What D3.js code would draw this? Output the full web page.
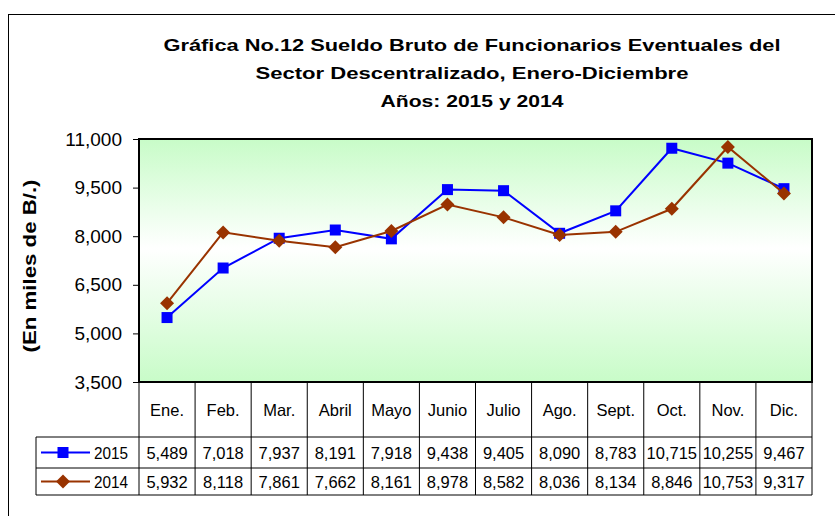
<!DOCTYPE html>
<html>
<head>
<meta charset="utf-8">
<script src="https://cdn.jsdelivr.net/npm/d3@7.9.0/dist/d3.min.js"></script>
<style>
  body { margin: 0; background: #fff; }
  svg { font-family: "Liberation Sans", Arial, sans-serif; }
</style>
</head>
<body>
<svg id="chart" width="835" height="516"></svg>
<script>
const months = ['Ene.', 'Feb.', 'Mar.', 'Abril', 'Mayo', 'Junio', 'Julio', 'Ago.', 'Sept.', 'Oct.', 'Nov.', 'Dic.'];
const values2015 = [5489, 7018, 7937, 8191, 7918, 9438, 9405, 8090, 8783, 10715, 10255, 9467];
const values2014 = [5932, 8118, 7861, 7662, 8161, 8978, 8582, 8036, 8134, 8846, 10753, 9317];
const yTicks = [3500, 5000, 6500, 8000, 9500, 11000];
const titleLines = [
  'Gráfica No.12 Sueldo Bruto de Funcionarios Eventuales del',
  'Sector Descentralizado, Enero-Diciembre',
  'Años: 2015 y 2014'
];

const series = [
  { name: '2015', values: values2015, color: '#0000ff', shape: 'square' },
  { name: '2014', values: values2014, color: '#993300', shape: 'diamond' }
];

const svg = d3.select('#chart');
const plotLeft = 139, plotRight = 812, plotTop = 139, plotBottom = 382;
const headerBottom = 437, row1Bottom = 468, row2Bottom = 495, legendLeft = 36;

// outer frame (runs off the right and bottom edges)
svg.append('rect')
  .attr('x', 8.5).attr('y', 14.5)
  .attr('width', 840).attr('height', 520)
  .attr('fill', 'none').attr('stroke', '#000').attr('stroke-width', 1);

// title
const titleWidths = [617, 433, 183];
titleLines.forEach((t, i) => {
  svg.append('text')
    .attr('x', 472).attr('y', 51 + i * 28)
    .attr('text-anchor', 'middle')
    .attr('font-weight', 'bold').attr('font-size', 17)
    .attr('textLength', titleWidths[i]).attr('lengthAdjust', 'spacingAndGlyphs')
    .text(t);
});

const x = d3.scaleBand().domain(months).range([plotLeft, plotRight]);
const y = d3.scaleLinear().domain([3500, 11000]).range([plotBottom, plotTop]);
const cx = (m) => x(m) + x.bandwidth() / 2;

// plot background gradient
const grad = svg.append('defs').append('linearGradient')
  .attr('id', 'bg').attr('x1', 0).attr('y1', 0).attr('x2', 0).attr('y2', 1);
grad.append('stop').attr('offset', '0%').attr('stop-color', '#c8fcc8');
grad.append('stop').attr('offset', '45%').attr('stop-color', '#ffffff');
grad.append('stop').attr('offset', '100%').attr('stop-color', '#c8fcc8');

svg.append('rect')
  .attr('x', plotLeft).attr('y', plotTop)
  .attr('width', plotRight - plotLeft).attr('height', plotBottom - plotTop)
  .attr('fill', 'url(#bg)');

// y axis
const yAxis = svg.append('g')
  .attr('transform', `translate(${plotLeft},0)`)
  .call(d3.axisLeft(y).tickValues(yTicks).tickFormat(d3.format(',')).tickSize(6).tickPadding(11));
yAxis.select('.domain').remove();
yAxis.selectAll('.tick line').attr('stroke', '#000');
yAxis.selectAll('.tick text')
  .attr('font-size', 19).attr('fill', '#000')
  .attr('font-family', '"Liberation Sans", Arial, sans-serif');

svg.append('text')
  .attr('transform', 'translate(36,266) rotate(-90)')
  .attr('text-anchor', 'middle')
  .attr('font-weight', 'bold').attr('font-size', 19)
  .attr('textLength', 173).attr('lengthAdjust', 'spacingAndGlyphs')
  .text('(En miles de B/.)');

// plot border
svg.append('rect')
  .attr('x', plotLeft).attr('y', plotTop)
  .attr('width', plotRight - plotLeft).attr('height', plotBottom - plotTop)
  .attr('fill', 'none').attr('stroke', '#000').attr('stroke-width', 2);

// data table grid
const grid = svg.append('g').attr('stroke', '#000').attr('stroke-width', 1).attr('fill', 'none');
const edges = months.map((m) => x(m)).concat([plotRight]);
edges.forEach((e) => {
  grid.append('line').attr('x1', e).attr('x2', e).attr('y1', plotBottom).attr('y2', row2Bottom);
});
[headerBottom, row1Bottom, row2Bottom].forEach((yy) => {
  grid.append('line').attr('x1', legendLeft).attr('x2', plotRight).attr('y1', yy).attr('y2', yy);
});
grid.append('line').attr('x1', legendLeft).attr('x2', legendLeft).attr('y1', headerBottom).attr('y2', row2Bottom);

svg.append('g').selectAll('text')
  .data(months).join('text')
  .attr('x', (d) => cx(d)).attr('y', 416)
  .attr('text-anchor', 'middle').attr('font-size', 16.5)
  .text((d) => d);

const rowMid = [(headerBottom + row1Bottom) / 2, (row1Bottom + row2Bottom) / 2];

function marker(g, shape, color, px, py) {
  if (shape === 'square') {
    g.append('rect').attr('x', px - 5.5).attr('y', py - 5.5)
      .attr('width', 11).attr('height', 11).attr('fill', color);
  } else {
    g.append('path')
      .attr('d', `M${px},${py - 7}L${px + 7},${py}L${px},${py + 7}L${px - 7},${py}Z`)
      .attr('fill', color);
  }
}

series.forEach((s, si) => {
  const ym = rowMid[si];
  svg.append('g').selectAll('text')
    .data(s.values).join('text')
    .attr('x', (d, i) => cx(months[i])).attr('y', ym + 6)
    .attr('text-anchor', 'middle').attr('font-size', 16.5)
    .text((d) => d3.format(',')(d));

  const lg = svg.append('g');
  lg.append('line').attr('x1', 41).attr('x2', 90).attr('y1', ym).attr('y2', ym)
    .attr('stroke', s.color).attr('stroke-width', 2);
  marker(lg, s.shape, s.color, 63, ym);
  lg.append('text').attr('x', 94).attr('y', ym + 6).attr('font-size', 16)
    .attr('textLength', 34).attr('lengthAdjust', 'spacingAndGlyphs').text(s.name);
});

// lines and markers, 2014 drawn on top
series.forEach((s) => {
  const line = d3.line().x((d, i) => cx(months[i])).y((d) => y(d));
  svg.append('path').datum(s.values)
    .attr('d', line).attr('fill', 'none')
    .attr('stroke', s.color).attr('stroke-width', 2);
  const g = svg.append('g');
  s.values.forEach((v, i) => marker(g, s.shape, s.color, cx(months[i]), y(v)));
});
</script>
</body>
</html>
